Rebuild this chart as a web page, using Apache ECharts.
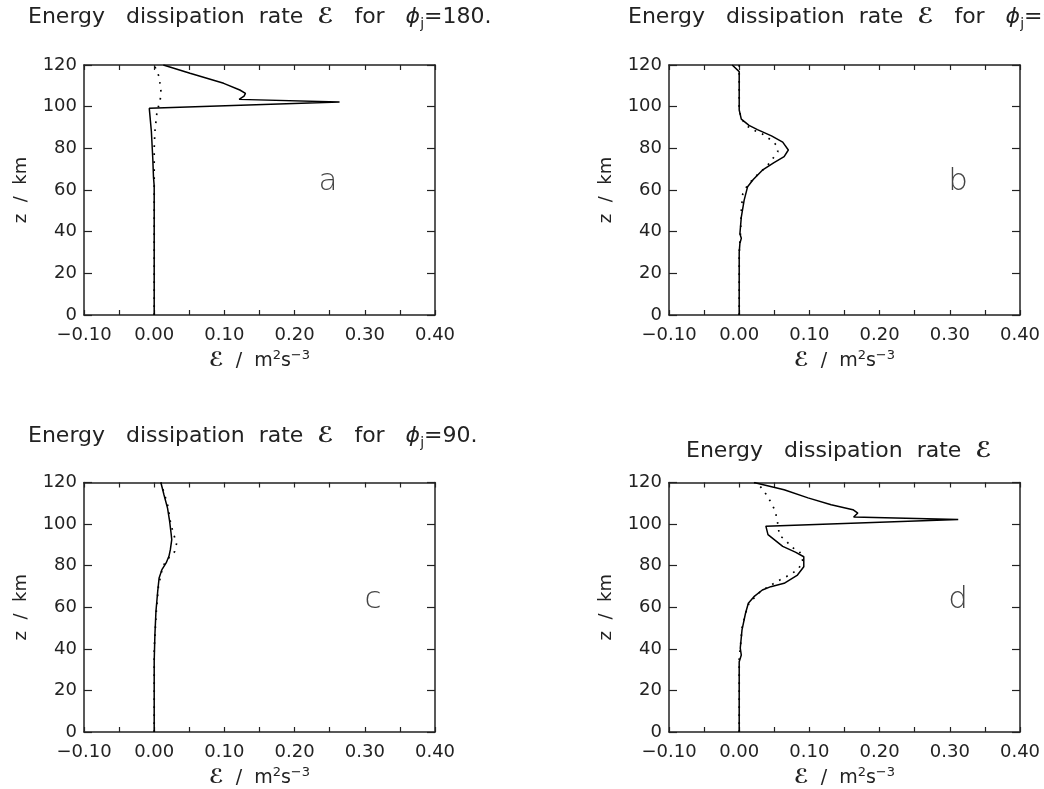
<!DOCTYPE html>
<html>
<head>
<meta charset="utf-8">
<script src="https://cdn.jsdelivr.net/npm/echarts@6/dist/echarts.min.js"></script>
<style>
  html, body { margin: 0; padding: 0; background: #fff; }
  #chart { width: 1044px; height: 789px; }
</style>
</head>
<body>
<div id="chart"></div>
<script>
// Profiles of the energy dissipation rate: pairs of [epsilon (m^2 s^-3), z (km)].
// Solid = full model, dotted = reference profile.
const panelASolid = [[0,0],[0,40],[0,62],[-0.001,66],[-0.002,75],[-0.004,88],[-0.007,99.2],[0.264,102.2],[0.121,103.5],[0.128,105.1],[0.130,106.4],[0.122,108],[0.099,111.2],[0.051,116],[0.013,120]];
const panelADotted = [[0,0],[0,60],[0,80],[0.001,88],[0.004,97.6],[0.008,102.4],[0.010,106.4],[0.007,114.4],[0.002,118.4],[0,120]];

const panelBSolid = [[0,0],[0,30],[0.001,34.4],[0.003,36.8],[0.001,39],[0.003,47],[0.007,55],[0.012,61.6],[0.020,65],[0.033,69.5],[0.049,73],[0.064,76],[0.070,79.2],[0.062,83],[0.046,86],[0.026,89],[0.014,91],[0.003,94],[0,98.4],[0,116.8],[-0.010,120]];
const panelBDotted = [[0,0],[0,30],[0.002,40],[0.003,50],[0.005,58],[0.012,62.4],[0.025,67],[0.039,71.2],[0.047,74.7],[0.055,78.4],[0.053,81.6],[0.044,84.3],[0.033,86.9],[0.020,88.8],[0.009,91.2],[0.002,95.2],[0,100],[0,120]];

const panelCSolid = [[0,0],[0,34],[0.001,46.8],[0.0025,58],[0.005,67.7],[0.007,74.1],[0.011,78.1],[0.017,81.3],[0.021,84.5],[0.023,87.7],[0.024,90.1],[0.025,92.5],[0.024,95.7],[0.022,101.3],[0.019,107.7],[0.014,114],[0.0095,120]];
const panelCDotted = [[0,0],[0,40],[0.003,58],[0.006,70],[0.012,79.5],[0.018,82.7],[0.029,86.7],[0.032,90.8],[0.028,94.8],[0.024,99.6],[0.022,103],[0.020,108],[0.015,114],[0.0095,120]];

const panelDSolid = [[0,0],[0,33.8],[0.003,37],[0.0015,40.3],[0.004,49.1],[0.009,57.1],[0.013,61.9],[0.021,65.1],[0.033,68.3],[0.045,69.9],[0.064,71.5],[0.083,75.5],[0.092,79.5],[0.092,84.3],[0.080,86.5],[0.062,89.3],[0.041,94.9],[0.038,99],[0.312,102.2],[0.163,103.4],[0.169,105.3],[0.162,106.9],[0.131,109.3],[0.098,112.6],[0.064,116.5],[0.021,120]];
const panelDDotted = [[0,0],[0,35],[0.002,42],[0.004,50],[0.009,57],[0.014,62],[0.030,67.5],[0.055,72.6],[0.067,74.7],[0.083,77.9],[0.091,81.9],[0.086,86.8],[0.074,89],[0.066,92.4],[0.057,94.6],[0.056,98.1],[0.054,102.1],[0.051,106.6],[0.045,110.6],[0.038,114.5],[0.031,117.7],[0.022,120]];

const panelLetters = ['a', 'b', 'c', 'd'];
const panelTitles = [
  'Energy   dissipation  rate  {e|ℰ}   for   {phi|ϕ}{sub|j}=180.',
  'Energy   dissipation  rate  {e|ℰ}   for   {phi|ϕ}{sub|j}=0.',
  'Energy   dissipation  rate  {e|ℰ}   for   {phi|ϕ}{sub|j}=90.',
  'Energy   dissipation  rate  {e|ℰ}'
];
const xRange = [-0.1, 0.4];
const zRange = [0, 120];
const xAxisName = '{e|ℰ}  /  m{sup|2}s{sup|−3}';
const yAxisName = 'z  /  km';

const FONT = 'DejaVu Sans';
const INK = '#222';

// Plot-box geometry of the 2x2 layout
const boxes = [
  { left: 84,  top: 65,    width: 351, height: 250 },
  { left: 669, top: 65,    width: 351, height: 250 },
  { left: 84,  top: 482.5, width: 351, height: 249.5 },
  { left: 669, top: 482.5, width: 351, height: 249.5 }
];
const titlePos = [
  { left: 28,  top: 3 },
  { left: 628, top: 3 },
  { left: 28,  top: 422 },
  { left: 686, top: 437 }
];
const letterPos = [
  { x: 328, y: 182 }, { x: 958, y: 182 }, { x: 373, y: 600 }, { x: 958, y: 600 }
];
const series = [
  [panelASolid, panelADotted],
  [panelBSolid, panelBDotted],
  [panelCSolid, panelCDotted],
  [panelDSolid, panelDDotted]
];

function fmtX(v) {
  const s = Math.abs(v).toFixed(2);
  return v < -1e-9 ? '\u2212' + s : s;
}

const axisLine = { show: true, onZero: false, lineStyle: { color: INK, width: 1.5 } };
const scriptE = { fontFamily: FONT, fontSize: 22, fontWeight: 'bold', fontStyle: 'italic', color: INK };

const option = {
  animation: false,
  backgroundColor: '#fff',
  title: [],
  grid: [],
  xAxis: [],
  yAxis: [],
  series: [],
  graphic: []
};

boxes.forEach((b, i) => {
  option.grid.push(Object.assign({ outerBoundsMode: 'none', containLabel: false, show: false }, b));

  // bottom axis with labels, and a mirrored top axis with ticks only
  option.xAxis.push({
    type: 'value', gridIndex: i, position: 'bottom',
    min: xRange[0], max: xRange[1], interval: 0.1,
    axisLine: axisLine,
    axisTick: { show: true, inside: true, length: 5, lineStyle: { color: INK, width: 1.2 } },
    minorTick: { show: true, splitNumber: 2, length: 5, lineStyle: { color: INK, width: 1.2 } },
    splitLine: { show: false },
    axisLabel: { formatter: fmtX, fontFamily: FONT, fontSize: 18, color: INK, margin: 11 },
    name: xAxisName, nameLocation: 'middle', nameGap: 34,
    nameTextStyle: {
      fontFamily: FONT, fontSize: 19, color: INK, lineHeight: 24,
      rich: {
        e: Object.assign({ lineHeight: 24 }, scriptE, { fontSize: 20 }),
        sup: { fontFamily: FONT, fontSize: 13, color: INK, lineHeight: 12, verticalAlign: 'top' }
      }
    }
  });
  option.xAxis.push({
    type: 'value', gridIndex: i, position: 'top',
    min: xRange[0], max: xRange[1], interval: 0.1,
    axisLine: axisLine,
    axisTick: { show: true, inside: true, length: 5, lineStyle: { color: INK, width: 1.2 } },
    minorTick: { show: true, splitNumber: 2, length: 5, lineStyle: { color: INK, width: 1.2 } },
    splitLine: { show: false },
    axisLabel: { show: false }
  });

  // left axis with labels, and a mirrored right axis with ticks only
  option.yAxis.push({
    type: 'value', gridIndex: i, position: 'left',
    min: zRange[0], max: zRange[1], interval: 20,
    axisLine: axisLine,
    axisTick: { show: true, inside: true, length: 8, lineStyle: { color: INK, width: 1.2 } },
    splitLine: { show: false },
    axisLabel: { fontFamily: FONT, fontSize: 18, color: INK, margin: 7 },
    name: yAxisName, nameLocation: 'middle', nameRotate: 90, nameGap: 54,
    nameTextStyle: { fontFamily: FONT, fontSize: 18, color: INK }
  });
  option.yAxis.push({
    type: 'value', gridIndex: i, position: 'right',
    min: zRange[0], max: zRange[1], interval: 20,
    axisLine: axisLine,
    axisTick: { show: true, inside: true, length: 8, lineStyle: { color: INK, width: 1.2 } },
    splitLine: { show: false },
    axisLabel: { show: false }
  });

  const [solid, dotted] = series[i];
  option.series.push({
    type: 'line', xAxisIndex: 2 * i, yAxisIndex: 2 * i,
    data: solid, showSymbol: false, silent: true, smooth: false,
    lineStyle: { color: '#000', width: 1.5 }
  });
  option.series.push({
    type: 'line', xAxisIndex: 2 * i, yAxisIndex: 2 * i,
    data: dotted, showSymbol: false, silent: true, smooth: false,
    lineStyle: { color: '#000', width: 1.7, type: [1.7, 6.3], cap: 'butt' }
  });

  option.title.push({
    text: panelTitles[i],
    left: titlePos[i].left, top: titlePos[i].top, padding: 0,
    textStyle: {
      fontFamily: FONT, fontSize: 22, fontWeight: 'normal', color: INK, lineHeight: 28,
      rich: {
        e: Object.assign({ lineHeight: 28 }, scriptE),
        phi: { fontFamily: FONT, fontSize: 22, fontStyle: 'italic', color: INK, lineHeight: 28 },
        sub: { fontFamily: FONT, fontSize: 14, color: INK, lineHeight: 12, verticalAlign: 'bottom' }
      }
    }
  });

  option.graphic.push({
    type: 'text', x: letterPos[i].x, y: letterPos[i].y, silent: true,
    style: {
      text: panelLetters[i], fontFamily: FONT, fontSize: 31, fontWeight: 200,
      fill: '#444', align: 'center', verticalAlign: 'middle'
    }
  });
});

const chart = echarts.init(document.getElementById('chart'), null, { renderer: 'canvas' });
chart.setOption(option);
</script>
</body>
</html>
